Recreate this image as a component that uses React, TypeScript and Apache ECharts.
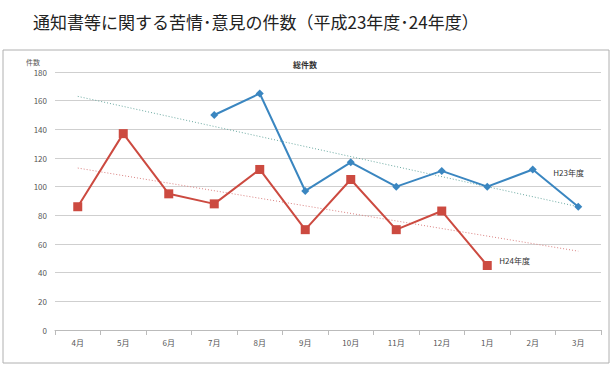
import React, { useEffect, useRef } from "react";
import * as echarts from "echarts";

const months = ["4月", "5月", "6月", "7月", "8月", "9月", "10月", "11月", "12月", "1月", "2月", "3月"];
const h23 = [null, null, null, 150, 165, 97, 117, 100, 111, 100, 112, 86];
const h24 = [86, 137, 95, 88, 112, 70, 105, 70, 83, 45, null, null];
const h23Trend = [163, null, null, null, null, null, null, null, null, null, null, 86];
const h24Trend = [113, null, null, null, null, null, null, null, null, null, null, 55];
const yTicks = [0, 20, 40, 60, 80, 100, 120, 140, 160, 180];

const BLUE = "#3a86c0";
const RED = "#cc4a40";
const FONT = "'Noto Sans CJK JP', 'Noto Sans', sans-serif";

export default function App() {
  const ref = useRef<HTMLDivElement>(null);
  useEffect(() => {
    if (!ref.current) return;
    const chart = echarts.init(ref.current, undefined, { renderer: "svg" });
    chart.setOption({
      animation: false,
      backgroundColor: "#ffffff",
      textStyle: { fontFamily: FONT },
      title: [
        {
          text: "通知書等に関する苦情･意見の件数（平成23年度･24年度）",
          left: 28,
          top: 8,
          textStyle: { fontSize: 17, fontWeight: "normal", color: "#222", fontFamily: FONT },
        },
        {
          text: "総件数",
          left: 300,
          top: 55,
          textAlign: "center",
          textStyle: { fontSize: 8, fontWeight: "bold", color: "#333", fontFamily: FONT },
        },
      ],
      graphic: [
        {
          type: "rect",
          shape: { x: 3, y: 50, width: 606, height: 313 },
          style: { fill: "none", stroke: "#b0b0b0", lineWidth: 1 },
          silent: true,
        },
        {
          type: "text",
          left: 26,
          top: 58,
          style: { text: "件数", fontSize: 7, fill: "#555", fontFamily: FONT },
        },
      ],
      grid: { left: 55, right: 11, top: 72, bottom: 36 },
      xAxis: {
        type: "category",
        data: months,
        boundaryGap: true,
        axisLine: { lineStyle: { color: "#bbb" } },
        axisTick: { show: true, lineStyle: { color: "#bbb" } },
        axisLabel: { fontSize: 8, color: "#555", margin: 8, fontFamily: FONT },
      },
      yAxis: {
        type: "value",
        min: 0,
        max: 180,
        interval: 20,
        axisLine: { show: false },
        axisTick: { show: false },
        axisLabel: {
          fontSize: 8,
          color: "#555",
          margin: 8,
          fontFamily: FONT,
          formatter: (v: number) => (yTicks.includes(v) ? String(v) : ""),
        },
        splitLine: { lineStyle: { color: "#cfcfcf", width: 1 } },
      },
      series: [
        {
          name: "H23trend",
          type: "line",
          data: h23Trend,
          connectNulls: true,
          symbol: "none",
          lineStyle: { color: "#6aa8a0", width: 1, type: [1, 2] },
          silent: true,
          z: 1,
        },
        {
          name: "H24trend",
          type: "line",
          data: h24Trend,
          connectNulls: true,
          symbol: "none",
          lineStyle: { color: "#d98080", width: 1, type: [1, 2] },
          silent: true,
          z: 1,
        },
        {
          name: "H23年度",
          type: "line",
          data: h23,
          symbol: "diamond",
          symbolSize: 8,
          itemStyle: { color: BLUE },
          lineStyle: { color: BLUE, width: 2 },
          endLabel: {
            show: true,
            formatter: "H23年度",
            fontSize: 8,
            color: "#333",
            offset: [-33, -34],
            fontFamily: FONT,
          },
          z: 3,
        },
        {
          name: "H24年度",
          type: "line",
          data: h24,
          symbol: "rect",
          symbolSize: 9,
          itemStyle: { color: RED },
          lineStyle: { color: RED, width: 2 },
          endLabel: {
            show: true,
            formatter: "H24年度",
            fontSize: 8,
            color: "#333",
            offset: [4, -5],
            fontFamily: FONT,
          },
          z: 3,
        },
      ],
    });
    return () => chart.dispose();
  }, []);
  return (
    <div
      ref={ref}
      style={{ position: "fixed", left: 0, top: 0, width: 612, height: 366 }}
    />
  );
}
